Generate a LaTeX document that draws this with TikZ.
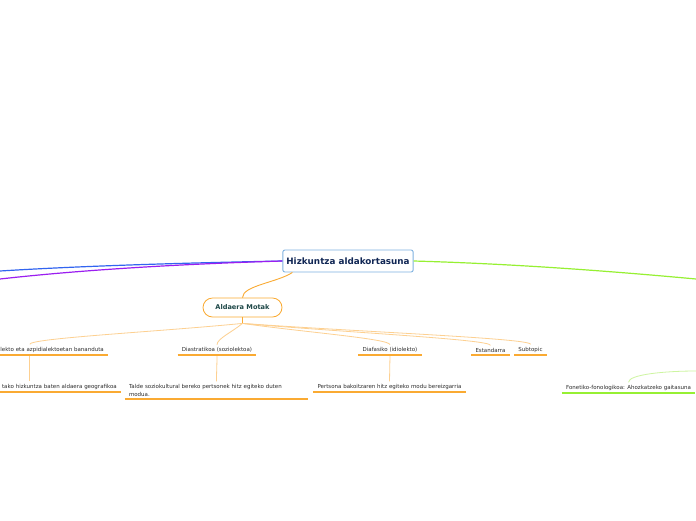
\documentclass[tikz,border=0pt]{standalone}
\usepackage{fontspec}
\setmainfont{DejaVu Sans}
\usetikzlibrary{calc,positioning}
\definecolor{rootline}{RGB}{126,178,224}
\definecolor{rootink}{RGB}{16,38,84}
\definecolor{motakink}{RGB}{30,72,72}
\definecolor{orangeline}{RGB}{250,170,50}
\definecolor{orangelink}{RGB}{253,208,145}
\definecolor{greenline}{RGB}{150,240,50}
\definecolor{greenlink}{RGB}{205,245,160}
\definecolor{blueline}{RGB}{50,100,240}
\definecolor{purpleline}{RGB}{155,30,240}
\definecolor{textgrey}{RGB}{45,45,45}
\tikzset{
  rootbox/.style={draw=rootline, fill=white, rounded corners=2pt, line width=0.9pt,
    font=\fontsize{8.8}{10}\selectfont\bfseries, text=rootink, inner xsep=3.5pt, minimum height=22pt},
  mainbox/.style={draw=orangeline, fill=white, rounded corners=9.5pt, line width=0.8pt,
    font=\fontsize{6.6}{8}\selectfont\bfseries, text=motakink, minimum width=79pt, minimum height=19pt},
  topic/.style={font=\fontsize{5.5}{8}\selectfont, text=textgrey, inner xsep=4pt, inner ysep=2.5pt, anchor=south},
  uline/.style={draw=orangeline, line width=1.6pt},
  link/.style={draw=orangelink, line width=0.8pt},
  branch/.style={line width=1.2pt},
}

\begin{document}
\begin{tikzpicture}[x=1pt, y=-1pt]
  \fill[white] (0,0) rectangle (696,520);
  \useasboundingbox (0,0) rectangle (696,520);

  % main topics
  \node[rootbox] (root) at (348,261) {Hizkuntza aldakortasuna};
  \node[mainbox] (motak) at (242.5,307.5) {Aldaera Motak};

  % types
  \node[topic, anchor=south east, text width=148pt, align=right] (dia) at (108,355) {lekto eta azpidialektoetan bananduta};
  \node[topic] (strat) at (217,355) {Diastratikoa (soziolektoa)};
  \node[topic] (fasiko) at (390,355) {Diafasiko (idiolekto)};
  \node[topic] (estand) at (490.5,355) {Estandarra};
  \node[topic] (subtopic) at (530.5,355) {Subtopic};

  % descriptions
  \node[topic, anchor=south east, text width=174pt, align=right] (geo) at (121,392) {tako hizkuntza baten aldaera geografikoa};
  \node[topic, text width=175pt, align=left] (talde) at (216.5,399) {Talde soziokultural bereko pertsonek hitz egiteko duten\\modua.};
  \node[topic] (person) at (389.5,392) {Pertsona bakoitzaren hitz egiteko modu bereizgarria};
  \node[topic] (fonetiko) at (628.5,393) {Fonetiko-fonologikoa: Ahozkatzeko gaitasuna};

  \coordinate (blueend) at (0,271);
  \coordinate (purpleend) at (0,279);
  \coordinate (greenend) at (696,279);
  \coordinate (fonend) at (696,371);
  \coordinate[below=6pt of motak.south] (stem);

  % branches off the root
  \draw[branch, blueline] (root.west) .. controls (180,263) and (80,266) .. (blueend);
  \draw[branch, purpleline] (root.west) .. controls (180,264) and (80,270) .. (purpleend);
  \draw[branch, greenline] (root.east) .. controls (520,264) and (620,272) .. (greenend);
  \draw[orangeline, line width=0.9pt] (root.south west) ++(10,0) .. controls +(-15,10) and +(0,-12) .. (motak.north);

  \draw[orangeline, line width=1pt] (motak.south) -- (stem);
  \foreach \n in {dia,strat,fasiko,estand,subtopic}
    \draw[link] (stem) .. controls ($(stem)!0.4!(\n.north)$) and +(0,-6) .. (\n.north);
  \draw[link] (dia.south) -- (geo.north);
  \draw[link] (strat.south) .. controls +(0,10) and +(0,-10) .. (talde.north);
  \draw[link] (fasiko.south) -- (person.north);
  \draw[greenlink, line width=0.8pt] (fonetiko.north) .. controls +(0,-8) and +(-30,0) .. (fonend);

  \foreach \n in {dia,strat,fasiko,estand,subtopic,geo,talde,person}
    \draw[uline] (\n.south west) -- (\n.south east);
  \draw[uline, draw=greenline] (fonetiko.south west) -- (fonetiko.south east);
\end{tikzpicture}
\end{document}
